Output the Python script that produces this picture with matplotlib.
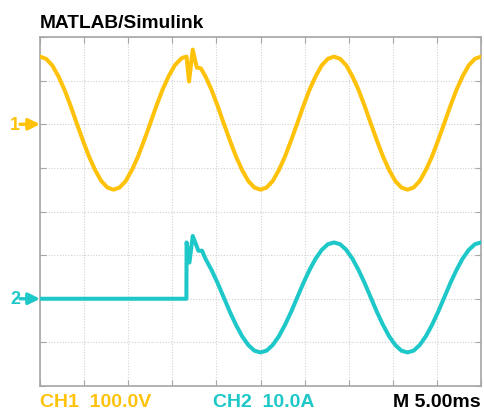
import matplotlib.pyplot as plt

plt.rcParams['font.family'] = ['Liberation Sans', 'DejaVu Sans']

# Electrical angle of the 60 Hz supply (degrees), 3 cycles = 50 ms
ch1_deg = [0, 15, 30, 45, 60, 75, 90, 105, 120, 135, 150, 165, 180, 195, 210, 225,
           240, 255, 270, 285, 300, 315, 330, 345,
           351, 359, 365, 374, 384, 394,
           405, 420, 435, 450, 465, 480, 495, 510, 525, 540, 555, 570, 585, 600,
           615, 630, 645, 660, 675, 690, 705,
           720, 735, 750, 765, 780, 795, 810, 825, 840, 855, 870, 885, 900, 915,
           930, 945, 960, 975, 990, 1005, 1020, 1035, 1050, 1065, 1080]
# CH1 voltage (V)
ch1_volts = [155, 150, 135, 110, 79, 42, 2, -37, -74, -105, -130, -145, -150, -145,
             -130, -105, -74, -37, 2, 42, 79, 110, 135, 150,
             153, 155, 98, 171, 130, 128,
             110, 79, 42, 2, -37, -74, -105, -130, -145, -150, -145, -130, -105, -74,
             -37, 2, 42, 79, 110, 135, 150,
             155, 150, 135, 110, 79, 42, 2, -37, -74, -105, -130, -145, -150, -145,
             -130, -105, -74, -37, 2, 42, 79, 110, 135, 150, 155]

ch2_deg = [0, 358.5, 359, 366, 374, 388, 397,
           405, 420, 435, 450, 465, 480, 495, 510, 525, 540, 555, 570, 585, 600,
           615, 630, 645, 660, 675, 690, 705,
           720, 735, 750, 765, 780, 795, 810, 825, 840, 855, 870, 885, 900, 915,
           930, 945, 960, 975, 990, 1005, 1020, 1035, 1050, 1065, 1080]
# CH2 current (A)
ch2_amps = [0, 0, 12.9, 8.3, 14.4, 11.0, 11.0,
            9.2, 6.6, 3.6, 0.3, -3.0, -6.0, -8.6, -10.6, -11.9, -12.3, -11.9, -10.6,
            -8.6, -6.0, -3.0, 0.3, 3.6, 6.6, 9.2, 11.2, 12.5,
            12.9, 12.5, 11.2, 9.2, 6.6, 3.6, 0.3, -3.0, -6.0, -8.6, -10.6, -11.9,
            -12.3, -11.9, -10.6, -8.6, -6.0, -3.0, 0.3, 3.6, 6.6, 9.2, 11.2, 12.5, 12.9]

YELLOW = '#FFC20A'
CYAN = '#1EC8C8'
GRAY = '#a6a6a6'

# scope settings
ms_per_deg = 1000 / 60 / 360
ch1_scale, ch1_ref = 100.0, 6   # V/div, reference division
ch2_scale, ch2_ref = 10.0, 2    # A/div

t1 = [d * ms_per_deg for d in ch1_deg]
y1 = [ch1_ref + v / ch1_scale for v in ch1_volts]
t2 = [d * ms_per_deg for d in ch2_deg]
y2 = [ch2_ref + a / ch2_scale for a in ch2_amps]

fig = plt.figure(figsize=(4.84, 4.10), dpi=100)
ax = fig.add_axes([40 / 484, 23 / 410, 441 / 484, 349 / 410])

ax.plot(t1, y1, color=YELLOW, lw=2.9, solid_joinstyle='round', zorder=3)
ax.plot(t2, y2, color=CYAN, lw=2.9, solid_joinstyle='round', zorder=3)

ax.set_xlim(0, 50)
ax.set_ylim(0, 8)
ax.set_xticks(range(0, 51, 5))
ax.set_yticks(range(0, 9))
ax.set_xticklabels([])
ax.set_yticklabels([])
ax.tick_params(direction='in', length=4, width=0.8, color=GRAY,
               top=True, right=True)
ax.grid(True, color='#d2d2d2', lw=0.8, linestyle=(0, (1, 1.5)))
for s in ax.spines.values():
    s.set_color(GRAY)
    s.set_linewidth(1.2)

# channel reference markers
for label, ref, col in [('1', ch1_ref, YELLOW), ('2', ch2_ref, CYAN)]:
    ax.annotate('', xy=(0, ref), xytext=(-20, 0), textcoords='offset pixels',
                arrowprops=dict(arrowstyle='-|>', color=col, lw=2.4,
                                mutation_scale=17, shrinkA=0, shrinkB=0),
                annotation_clip=False)
    ax.annotate(label, xy=(0, ref), xytext=(-20, 0), textcoords='offset pixels',
                ha='right', va='center', color=col, fontsize=13,
                fontweight='bold', annotation_clip=False)

fig.text(40 / 484, 382 / 410, 'MATLAB/Simulink', fontsize=13.8,
         fontweight='bold', va='baseline', ha='left')
fig.text(40 / 484, 3 / 410, 'CH1  100.0V', color=YELLOW, fontsize=14,
         fontweight='bold', va='baseline', ha='left')
fig.text(213 / 484, 3 / 410, 'CH2  10.0A', color=CYAN, fontsize=14,
         fontweight='bold', va='baseline', ha='left')
fig.text(481 / 484, 3 / 410, 'M 5.00ms', color='black', fontsize=14,
         fontweight='bold', va='baseline', ha='right')

fig.savefig('out.png', dpi=100)
